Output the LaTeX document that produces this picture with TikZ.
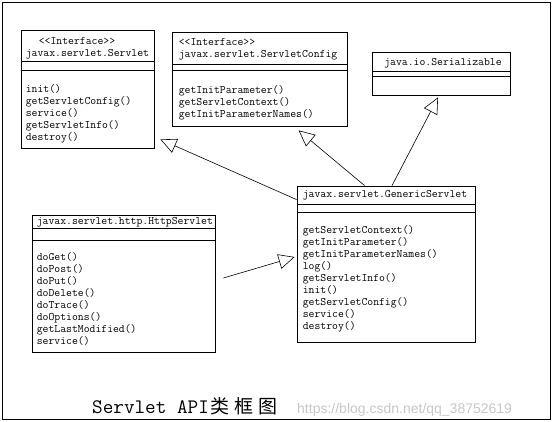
\documentclass[tikz,border=0pt]{standalone}
\usepackage{fontspec}
\newfontfamily\cjk{Noto Sans CJK SC}
\newfontfamily\wmfont{Liberation Sans}
\usetikzlibrary{calc, arrows.meta}

\tikzset{
  classbox/.style={draw,line width=.8pt,inner sep=0pt},
  member/.style={anchor=base west,inner sep=0pt,font=\ttfamily\fontsize{11.4}{12}\selectfont},
  inherit/.style={line width=.6pt,-{Triangle[open,length=16pt,width=15pt]}}
}

\begin{document}
\begin{tikzpicture}[x=1pt,y=-1pt]
\useasboundingbox (0,0) rectangle (552,421);
\draw[line width=.8pt] (2,2) rectangle (550,419);

% the five classes
\node[classbox,minimum width=133pt,minimum height=118pt] (servlet) at (87.5,89)  {};
\node[classbox,minimum width=175pt,minimum height=94pt]  (config)  at (259.5,79) {};
\node[classbox,minimum width=138pt,minimum height=43pt]  (serial)  at (441,73.5) {};
\node[classbox,minimum width=183pt,minimum height=137pt] (http)    at (123.5,283.5) {};
\node[classbox,minimum width=178pt,minimum height=156pt] (generic) at (386,264)  {};

\draw ($(servlet.north west)+(0,32)$) -- ($(servlet.north east)+(0,32)$);
\draw ($(servlet.north west)+(0,41)$) -- ($(servlet.north east)+(0,41)$);
\draw ($(config.north west)+(0,33)$)  -- ($(config.north east)+(0,33)$);
\draw ($(config.north west)+(0,39)$)  -- ($(config.north east)+(0,39)$);
\draw ($(serial.north west)+(0,20)$)  -- ($(serial.north east)+(0,20)$);
\draw ($(serial.north west)+(0,25)$)  -- ($(serial.north east)+(0,25)$);
\draw ($(http.north west)+(0,14)$)    -- ($(http.north east)+(0,14)$);
\draw ($(http.north west)+(0,26)$)    -- ($(http.north east)+(0,26)$);
\draw ($(generic.north west)+(0,19)$) -- ($(generic.north east)+(0,19)$);
\draw ($(generic.north west)+(0,27)$) -- ($(generic.north east)+(0,27)$);

% names
\node[member] (servlet-st) at ($(servlet.north west)+(18,15)$) {{<}{<}Interface{>}{>}};
\node[member] (servlet-nm) at ($(servlet.north west)+(5,27)$)  {javax.servlet.Servlet};
\node[member] (config-st)  at ($(config.north west)+(7,14)$)   {{<}{<}Interface{>}{>}};
\node[member] (config-nm)  at ($(config.north west)+(7,26)$)   {javax.servlet.ServletConfig};
\node[member,anchor=base] (serial-nm) at ($(serial.north)+(2,14)$) {java.io.Serializable};
\node[member] (http-nm)    at ($(http.north west)+(5,10)$)     {javax.servlet.http.HttpServlet};
\node[member] (generic-nm) at ($(generic.north west)+(6,12)$)  {javax.servlet.GenericServlet};

% methods
\foreach \m [count=\i from 0] in {init(),getServletConfig(),service(),getServletInfo(),destroy()}
  \node[member] (servlet-m\i) at ($(servlet.north west)+(5,63+12*\i)$) {\m};
\foreach \m [count=\i from 0] in {getInitParameter(),getServletContext(),getInitParameterNames()}
  \node[member] (config-m\i) at ($(config.north west)+(7,62+12*\i)$) {\m};
\foreach \m [count=\i from 0] in {doGet(),doPost(),doPut(),doDelete(),doTrace(),doOptions(),getLastModified(),service()}
  \node[member] (http-m\i) at ($(http.north west)+(5,46+12*\i)$) {\m};
\foreach \m [count=\i from 0] in {getServletContext(),getInitParameter(),getInitParameterNames(),log(),getServletInfo(),init(),getServletConfig(),service(),destroy()}
  \node[member] (generic-m\i) at ($(generic.north west)+(6,48+12*\i)$) {\m};

% inheritance
\draw[inherit] ($(generic.north west)+(0,14)$) -- ($(servlet.south east)+(6,-9)$);
\draw[inherit] ($(generic.north west)+(68,0)$) -- ($(config.south west)+(127,4)$);
\draw[inherit] ($(generic.north)+(6,0)$) -- ($(serial.south)+(-3,2)$);
\draw[inherit] ($(http.east)+(8,-5.5)$) -- ($(generic.west)+(-2,-7)$);

% caption
\node[anchor=base west,inner sep=0pt,font=\ttfamily\fontsize{20.6}{22}\selectfont] (title) at (92,413)
  {Servlet API{\cjk\fontsize{19}{20}\selectfont\kern2pt 类\kern5pt 框\kern5pt 图}};
\node[anchor=base west,inner sep=0pt,font=\wmfont\fontsize{14}{16}\selectfont,text=black!22] (mark) at (297,413)
  {https://blog.csdn.net/qq\_38752619};
\end{tikzpicture}
\end{document}
